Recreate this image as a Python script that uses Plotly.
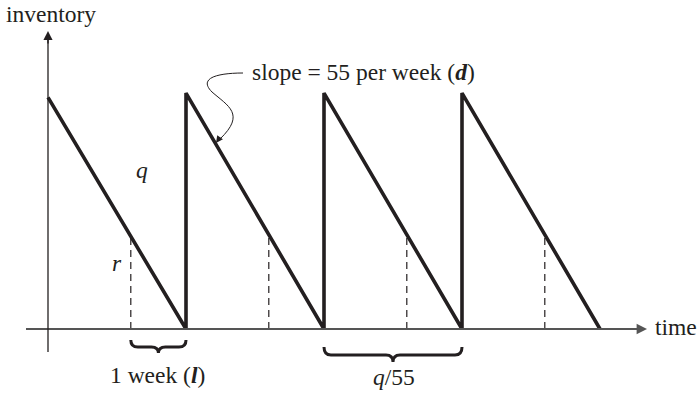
import plotly.graph_objects as go

# ---- data ----
demand_per_week = 55          # slope d
order_qty = 137.5             # q
reorder_point = 55            # r
lead_time = 1.0               # l (weeks)
cycle_ends = [2.5, 5.0, 7.5, 10.0]   # times where inventory hits 0 (weeks)
initial_inventory = 135       # inventory at time 0

# sawtooth points built from the values above
saw_t = [0.0]
saw_inv = [initial_inventory]
for i, te in enumerate(cycle_ends):
    saw_t.append(te); saw_inv.append(0)
    if i < len(cycle_ends) - 1:
        saw_t.append(te); saw_inv.append(order_qty)
reorder_times = [te - lead_time for te in cycle_ends]

# ---- layout scale (pixels per unit) ----
W, H = 697, 396
X0, PXW = 48, 55.2
Y0, PXU = 329, 1.716
def tx(px):  # pixel x -> weeks
    return (px - X0) / PXW
def iy(py):  # pixel y -> inventory
    return (Y0 - py) / PXU

INK = "#231f20"
AX = "#555555"
FONT = "Liberation Serif, Times New Roman, serif"

fig = go.Figure()
fig.add_trace(go.Scatter(x=saw_t, y=saw_inv, mode="lines",
                         line=dict(color=INK, width=3.6), hoverinfo="skip",
                         showlegend=False))
for rt in reorder_times:
    fig.add_trace(go.Scatter(x=[rt, rt], y=[0, reorder_point], mode="lines",
                             line=dict(color=INK, width=1.2, dash="7px,5px"),
                             hoverinfo="skip", showlegend=False))

shapes = []
# axes
shapes.append(dict(type="line", xref="x", yref="y", x0=tx(26), x1=tx(640), y0=0, y1=0,
                   line=dict(color=AX, width=2)))
shapes.append(dict(type="line", xref="x", yref="y", x0=0, x1=0, y0=iy(352), y1=iy(40),
                   line=dict(color=INK, width=1.3)))

def brace(x0p, x1p, ytop, ybody, ytip, r=7):
    xm = (x0p + x1p) / 2
    pts = [
        ("M", [(x0p, ytop)]),
        ("Q", [(x0p, ybody), (x0p + r, ybody)]),
        ("L", [(xm - r, ybody)]),
        ("Q", [(xm, ybody), (xm, ytip)]),
        ("Q", [(xm, ybody), (xm + r, ybody)]),
        ("L", [(x1p - r, ybody)]),
        ("Q", [(x1p, ybody), (x1p, ytop)]),
    ]
    s = ""
    for cmd, ps in pts:
        s += cmd + " " + " ".join(f"{tx(a):.4f},{iy(b):.4f}" for a, b in ps) + " "
    return s

def px(t):
    return X0 + t * PXW

b1 = brace(px(reorder_times[0]), px(cycle_ends[0]), 340, 347, 353)
b2 = brace(px(cycle_ends[1]), px(cycle_ends[2]), 347, 355, 362)
for b in (b1, b2):
    shapes.append(dict(type="path", xref="x", yref="y", path=b,
                       line=dict(color=INK, width=3)))

# pointer curve
cpts = [(243, 73), (224, 73), (196, 76), (212, 92), (228, 106), (246, 114), (220, 139)]
cpath = f"M {tx(cpts[0][0])},{iy(cpts[0][1])} "
cpath += "C " + " ".join(f"{tx(a)},{iy(b)}" for a, b in cpts[1:4]) + " "
cpath += "C " + " ".join(f"{tx(a)},{iy(b)}" for a, b in cpts[4:7])
shapes.append(dict(type="path", xref="x", yref="y", path=cpath,
                   line=dict(color=INK, width=1)))

ann = []
# axis arrowheads
ann.append(dict(x=tx(647), y=0, ax=-14, ay=0, xref="x", yref="y", text="",
                showarrow=True, arrowhead=2, arrowsize=1.3, arrowwidth=1.6, arrowcolor=AX))
ann.append(dict(x=0, y=iy(31), ax=0, ay=14, xref="x", yref="y", text="",
                showarrow=True, arrowhead=2, arrowsize=1.3, arrowwidth=1.4, arrowcolor=INK))
# pointer arrowhead
ann.append(dict(x=tx(216), y=iy(143), ax=5, ay=-7, xref="x", yref="y", text="",
                showarrow=True, arrowhead=2, arrowsize=1.4, arrowwidth=1, arrowcolor=INK))

def label(text, xp, yp, xanchor="center", size=23.5):
    ann.append(dict(x=tx(xp), y=iy(yp), xref="x", yref="y", text=text, showarrow=False,
                    xanchor=xanchor, yanchor="middle",
                    font=dict(family=FONT, size=size, color=INK)))

label("inventory", 51, 14)
label("time", 653, 327, xanchor="left")
label("slope = 55 per week (<b><i>d</i></b>)", 250, 72, xanchor="left")
label("<i>q</i>", 142, 170)
label("<i>r</i>", 117, 263)
label("1 week (<b><i>l</i></b>)", 157, 375)
label("<i>q</i>/55", 394, 377)

fig.update_layout(
    width=W, height=H, margin=dict(l=0, r=0, t=0, b=0),
    paper_bgcolor="white", plot_bgcolor="white",
    xaxis=dict(range=[tx(0), tx(W)], visible=False, fixedrange=True),
    yaxis=dict(range=[iy(H), iy(0)], visible=False, fixedrange=True),
    shapes=shapes, annotations=ann, showlegend=False,
)
fig.write_html("out.html", config={"displayModeBar": False},
               post_script="document.body.style.margin='0';document.body.style.padding='0';")
